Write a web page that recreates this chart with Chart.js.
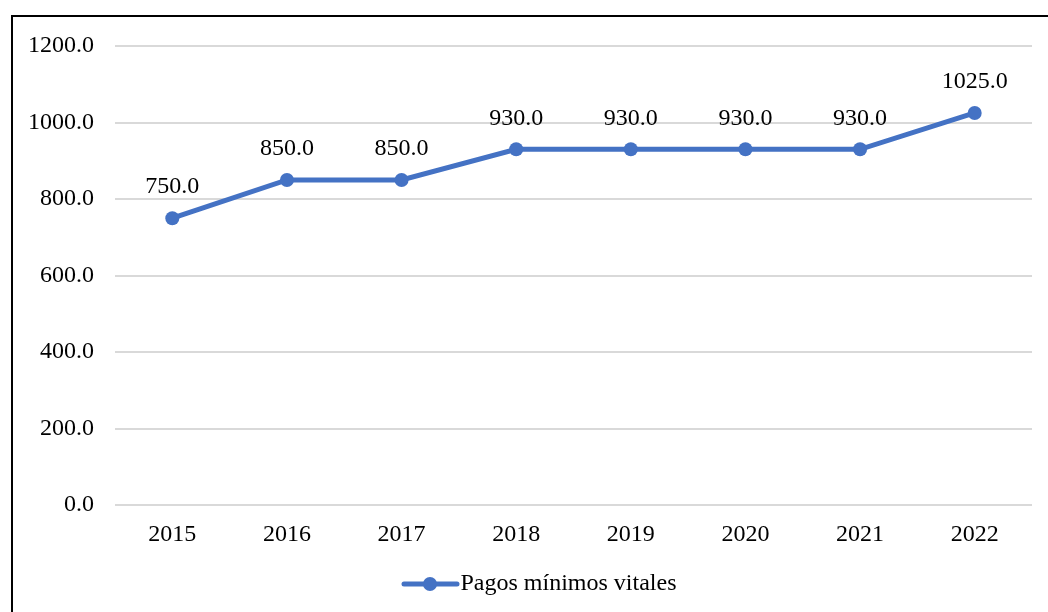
<!DOCTYPE html>
<html>
<head>
<meta charset="utf-8">
<script src="https://cdn.jsdelivr.net/npm/chart.js@4/dist/chart.umd.min.js"></script>
<style>
  html, body { margin: 0; padding: 0; background: #fff; }
  #wrap { position: relative; width: 1048px; height: 612px; overflow: hidden; }
  #frame { position: absolute; left: 11px; top: 15px; width: 1100px; height: 700px;
           border-left: 2px solid #000; border-top: 2px solid #000; }
  canvas { position: absolute; left: 0; top: 0; }
</style>
</head>
<body>
<div id="wrap">
  <div id="frame"></div>
  <canvas id="chart" width="1048" height="612"></canvas>
</div>
<script>
const years = ['2015', '2016', '2017', '2018', '2019', '2020', '2021', '2022'];
const pagos = [750, 850, 850, 930, 930, 930, 930, 1025];
const seriesName = 'Pagos mínimos vitales';

const blue = '#4472C4';
const font = { family: "'Liberation Serif', 'Times New Roman', serif", size: 24 };

// legend marker: a line with a dot in the middle, drawn on the right half
// of the image so the legend item sits a bit right of centre
const marker = document.createElement('canvas');
marker.width = 116;
marker.height = 16;
const mctx = marker.getContext('2d');
mctx.strokeStyle = blue;
mctx.lineWidth = 5;
mctx.lineCap = 'round';
mctx.beginPath();
mctx.moveTo(60, 8);
mctx.lineTo(113, 8);
mctx.stroke();
mctx.fillStyle = blue;
mctx.beginPath();
mctx.arc(86, 8, 7, 0, Math.PI * 2);
mctx.fill();

const valueLabels = {
    id: 'valueLabels',
    afterDatasetsDraw(chart) {
        const ctx = chart.ctx;
        const meta = chart.getDatasetMeta(0);
        ctx.save();
        ctx.font = font.size + 'px ' + font.family;
        ctx.fillStyle = '#000';
        ctx.textAlign = 'center';
        ctx.textBaseline = 'middle';
        meta.data.forEach((pt, i) => {
            ctx.fillText(pagos[i].toFixed(1), pt.x, pt.y - 31);
        });
        ctx.restore();
    }
};

new Chart(document.getElementById('chart'), {
    type: 'line',
    data: {
        labels: years,
        datasets: [{
            label: seriesName,
            data: pagos,
            borderColor: blue,
            backgroundColor: blue,
            borderWidth: 5,
            pointRadius: 7,
            pointHoverRadius: 7,
            pointBackgroundColor: blue,
            pointBorderWidth: 0,
            tension: 0
        }]
    },
    options: {
        responsive: false,
        animation: false,
        layout: { padding: { top: 46, right: 16, left: 0, bottom: 6 } },
        scales: {
            x: {
                offset: true,
                grid: { display: false, drawTicks: false },
                border: { display: false },
                ticks: { color: '#000', font: font, padding: 15, maxRotation: 0 }
            },
            y: {
                min: 0,
                max: 1200,
                afterFit(scale) { scale.width = 115; },
                grid: { color: '#d9d9d9', lineWidth: 2, drawTicks: false },
                border: { display: false },
                ticks: {
                    stepSize: 200,
                    color: '#000',
                    font: font,
                    padding: 21,
                    callback: v => v.toFixed(1)
                }
            }
        },
        plugins: {
            tooltip: { enabled: false },
            legend: {
                position: 'bottom',
                labels: {
                    color: '#000',
                    font: font,
                    usePointStyle: true,
                    pointStyleWidth: 93,
                    padding: 8,
                    generateLabels(chart) {
                        return [{
                            text: seriesName,
                            pointStyle: marker,
                            fillStyle: blue,
                            strokeStyle: blue,
                            lineWidth: 0,
                            datasetIndex: 0
                        }];
                    }
                }
            }
        }
    },
    plugins: [valueLabels]
});
</script>
</body>
</html>
